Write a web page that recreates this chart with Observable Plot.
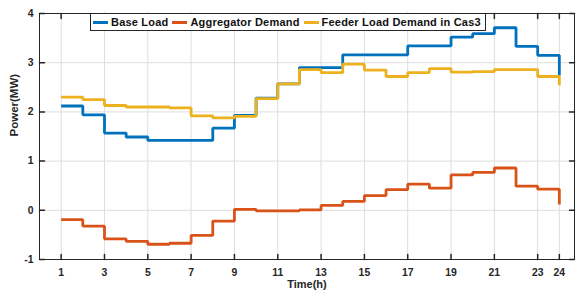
<!DOCTYPE html>
<html>
<head>
<meta charset="utf-8">
<script src="https://cdn.jsdelivr.net/npm/d3@7"></script>
<script src="https://cdn.jsdelivr.net/npm/@observablehq/plot@0.6"></script>
<style>
  body { margin: 0; background: #fff; }
  #wrap { position: relative; width: 576px; height: 298px; font-family: "Liberation Sans", Arial, sans-serif; }
  #legend { position: absolute; left: 90px; top: 13px; height: 18px; box-sizing: border-box; border: 1px solid #262626; background: #fff;
    display: flex; align-items: center; padding: 0 4px 0 2px; font-weight: bold; font-size: 11px; letter-spacing: 0.2px; color: #111; white-space: nowrap; }
  .item { display: flex; align-items: center; margin-right: 4px; }
  .item:last-child { margin-right: 0; }
  .swatch { width: 15px; height: 3px; margin-right: 3px; }
</style>
</head>
<body>
<div id="wrap"><div id="legend"></div></div>
<script>
const hours = [1,2,3,4,5,6,7,8,9,10,11,12,13,14,15,16,17,18,19,20,21,22,23,24];
const baseLoad = [2.12,1.94,1.57,1.49,1.42,1.42,1.42,1.67,1.93,2.28,2.57,2.90,2.90,3.16,3.16,3.16,3.34,3.34,3.52,3.59,3.71,3.33,3.15,2.74];
const aggregatorDemand = [-0.19,-0.32,-0.58,-0.63,-0.69,-0.67,-0.51,-0.22,0.02,-0.01,-0.01,0.01,0.10,0.18,0.30,0.42,0.53,0.45,0.72,0.77,0.86,0.49,0.43,0.12];
const feederLoad = [2.30,2.25,2.13,2.10,2.10,2.08,1.92,1.88,1.91,2.27,2.57,2.86,2.80,2.97,2.85,2.72,2.80,2.88,2.81,2.82,2.86,2.86,2.72,2.54];
const seriesNames = ["Base Load", "Aggregator Demand", "Feeder Load Demand in Cas3"];
const seriesColors = ["#0072BD", "#D95319", "#EDB120"];
const xTicks = [1,3,5,7,9,11,13,15,17,19,21,23,24];
const yTicks = [-1,0,1,2,3,4];
const xLabel = "Time(h)";
const yLabel = "Power(MW)";

const seriesValues = [baseLoad, aggregatorDemand, feederLoad];
const data = [];
seriesValues.forEach((vals, i) => hours.forEach((h, j) => data.push({series: seriesNames[i], hour: h, value: vals[j]})));

const tickShape = {draw(ctx, l) { ctx.moveTo(0, 0); ctx.lineTo(0, -l); }};
const axisColor = "#262626";

const chart = Plot.plot({
  width: 576,
  height: 298,
  marginLeft: 39,
  marginRight: 2,
  marginTop: 13,
  marginBottom: 39,
  x: {domain: [0, 24.7]},
  y: {domain: [-1, 4]},
  color: {domain: seriesNames, range: seriesColors},
  style: {fontFamily: "'Liberation Sans', Arial, sans-serif", fontWeight: "bold", fontSize: "10px", color: axisColor, background: "white"},
  marks: [
    Plot.gridX(xTicks, {stroke: "#dedede", strokeOpacity: 1, strokeWidth: 1}),
    Plot.gridY(yTicks, {stroke: "#dedede", strokeOpacity: 1, strokeWidth: 1}),
    ...seriesNames.map(name => Plot.line(data.filter(d => d.series === name), {
      x: "hour", y: "value", stroke: "series", curve: "step-after",
      strokeWidth: 2.8, strokeLinejoin: "miter", strokeLinecap: "butt"
    })),
    Plot.frame({stroke: axisColor, strokeWidth: 1}),
    Plot.vectorX(xTicks, {x: d => d, frameAnchor: "bottom", length: 5, rotate: 0, anchor: "start", shape: tickShape, stroke: axisColor}),
    Plot.vectorX(xTicks, {x: d => d, frameAnchor: "top", length: 5, rotate: 180, anchor: "start", shape: tickShape, stroke: axisColor}),
    Plot.vectorY(yTicks, {y: d => d, frameAnchor: "left", length: 5, rotate: 90, anchor: "start", shape: tickShape, stroke: axisColor}),
    Plot.vectorY(yTicks, {y: d => d, frameAnchor: "right", length: 5, rotate: -90, anchor: "start", shape: tickShape, stroke: axisColor}),
    Plot.axisX(xTicks, {tickSize: 0, tickPadding: 9, label: null, tickFormat: d => String(d), fill: axisColor, fontSize: 10.4}),
    Plot.axisY(yTicks, {tickSize: 0, tickPadding: 6, label: null, tickFormat: d => String(d), fill: axisColor, fontSize: 10.4}),
    Plot.text([xLabel], {frameAnchor: "bottom", dy: 28, text: d => d, fontWeight: "bold", fontSize: 11, fill: axisColor}),
    Plot.text([yLabel], {frameAnchor: "left", dx: -25, rotate: -90, text: d => d, fontWeight: "bold", fontSize: 11.5, fill: axisColor})
  ]
});

const wrap = document.getElementById("wrap");
wrap.insertBefore(chart, wrap.firstChild);

const legend = document.getElementById("legend");
seriesNames.forEach((name, i) => {
  const item = document.createElement("div");
  item.className = "item";
  const sw = document.createElement("div");
  sw.className = "swatch";
  sw.style.background = seriesColors[i];
  const label = document.createElement("span");
  label.textContent = name;
  item.appendChild(sw);
  item.appendChild(label);
  legend.appendChild(item);
});
</script>
</body>
</html>
